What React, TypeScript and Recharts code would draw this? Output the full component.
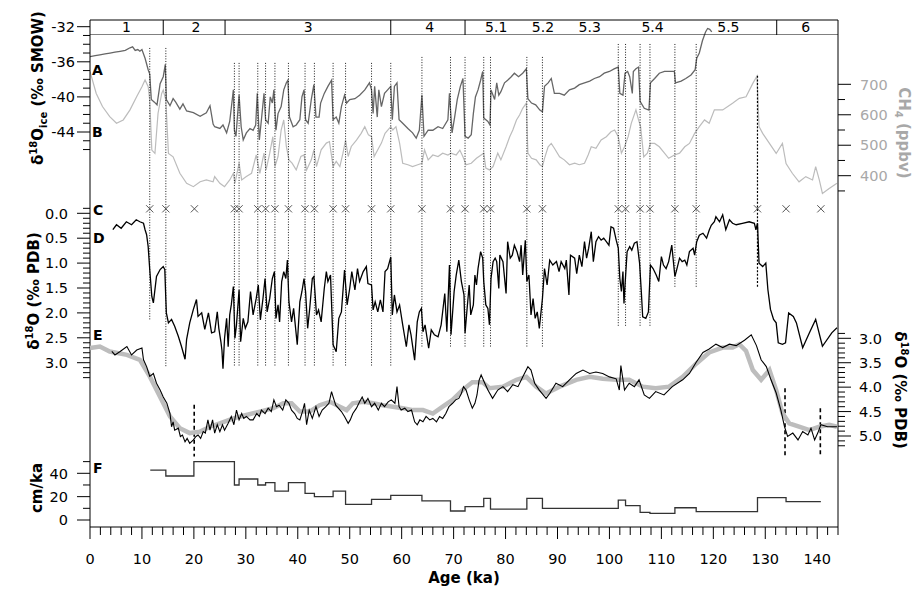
import {
  ComposedChart,
  Line,
  Scatter,
  XAxis,
  YAxis,
  ReferenceLine,
  ReferenceDot
} from 'recharts';

// ---- data ----

// A: ice-core d18O (permil SMOW)
const ICE_D18O: [number, number][] = [
  [0, -35.4], [1.0, -35.3], [1.9, -35.2], [2.9, -35.1], [3.85, -35.0], [4.8, -34.9], [5.8, -34.8],
  [6.8, -34.7], [7.7, -34.4], [8.2, -34.3], [8.7, -34.7], [9.2, -34.6], [9.6, -34.8], [10.0, -34.6],
  [10.6, -35.6], [11.2, -36.9], [11.5, -37.4], [11.8, -40.3], [12.4, -40.6], [12.9, -40.9], [13.5, -38.5],
  [14.1, -37.7], [14.5, -36.3], [14.7, -40.3], [15.4, -41.0], [16.0, -40.2], [16.5, -40.6], [17.3, -41.4],
  [17.9, -40.8], [18.6, -41.6], [19.9, -41.8], [21.2, -42.2], [22.4, -41.8], [23.1, -41.0], [23.7, -43.1],
  [24.0, -43.4], [25.0, -43.6], [25.6, -43.2], [26.3, -44.1], [26.9, -42.8], [27.6, -39.2], [27.8, -43.8],
  [28.1, -44.5], [28.7, -39.8], [29.1, -43.4], [29.5, -44.9], [30.1, -44.1], [30.8, -43.6], [31.4, -43.8],
  [31.9, -43.2], [32.2, -39.6], [32.6, -44.9], [33.0, -42.6], [33.5, -39.6], [33.8, -42.6], [34.3, -43.0],
  [34.7, -40.0], [35.1, -40.7], [35.4, -39.2], [35.8, -43.8], [36.2, -41.9], [36.8, -41.1], [37.3, -39.2],
  [37.8, -38.4], [38.1, -38.1], [38.4, -42.3], [39.1, -43.4], [39.7, -43.2], [40.4, -42.6], [40.8, -40.0],
  [41.2, -39.2], [41.5, -42.6], [42.0, -43.0], [42.6, -40.3], [43.1, -38.6], [43.5, -42.3], [44.1, -42.3],
  [44.4, -40.7], [45.1, -39.6], [45.8, -38.8], [46.5, -38.1], [46.8, -42.6], [47.4, -42.3], [47.9, -43.0],
  [48.4, -41.1], [49.0, -39.8], [49.4, -40.7], [50.0, -40.3], [51.0, -40.2], [51.9, -39.8], [52.9, -39.2],
  [53.8, -38.4], [54.2, -39.2], [54.5, -41.9], [54.8, -38.8], [55.3, -42.3], [55.6, -39.2], [56.1, -41.1],
  [56.7, -39.6], [57.3, -39.2], [57.9, -38.8], [58.2, -42.6], [58.6, -38.8], [59.1, -38.4], [59.5, -42.6],
  [60.2, -43.0], [61.2, -43.6], [62.1, -44.1], [62.8, -44.7], [63.4, -43.8], [63.9, -39.8], [64.3, -44.5],
  [65.1, -43.8], [66.0, -43.8], [67.0, -43.4], [67.9, -43.6], [68.9, -42.6], [69.2, -39.6], [69.7, -44.1],
  [70.2, -42.3], [70.7, -40.3], [71.3, -38.8], [71.8, -37.9], [72.2, -44.5], [72.8, -44.7], [73.4, -44.3],
  [73.8, -41.9], [74.2, -40.0], [74.7, -39.2], [75.2, -38.1], [75.6, -37.1], [75.8, -42.4], [76.6, -42.8],
  [77.0, -43.2], [77.2, -39.2], [77.9, -40.3], [78.3, -38.4], [78.7, -39.8], [79.1, -39.4], [79.8, -38.4],
  [80.4, -38.1], [81.1, -37.7], [81.7, -37.3], [82.5, -37.7], [83.3, -37.3], [84.0, -36.8], [84.3, -40.2],
  [85.0, -40.7], [85.8, -40.9], [86.6, -41.5], [87.1, -41.7], [87.5, -38.8], [88.2, -38.4], [88.8, -37.9],
  [89.4, -39.6], [90.4, -39.6], [91.3, -39.8], [92.3, -39.2], [93.3, -39.0], [94.2, -38.6], [95.2, -38.4],
  [96.2, -38.2], [97.1, -37.9], [98.1, -37.7], [99.0, -37.3], [100.0, -37.1], [100.9, -36.8], [101.7, -36.6],
  [102.0, -39.6], [102.6, -39.8], [103.0, -37.3], [103.5, -37.1], [103.9, -37.7], [104.4, -39.6], [104.6, -37.1],
  [105.1, -36.8], [105.6, -36.6], [105.9, -40.5], [106.7, -41.3], [107.6, -41.5], [107.9, -38.4], [108.7, -37.9],
  [109.6, -37.3], [110.6, -37.1], [111.5, -37.1], [112.5, -37.1], [112.7, -38.4], [113.8, -38.2], [114.7, -37.9],
  [115.7, -37.5], [116.5, -36.9], [116.8, -35.6], [117.3, -35.0], [117.9, -33.6], [118.5, -32.6], [118.9, -32.2],
  [119.3, -32.3], [119.7, -32.6]
];

// B: methane (ppbv)
const CH4: [number, number][] = [
  [0, 742], [1.2, 670], [2.4, 627], [3.8, 594], [5.1, 572], [6.4, 583], [7.7, 616], [9.0, 660], [10.0, 692],
  [10.6, 714], [11.2, 692], [11.5, 648], [11.9, 484], [12.5, 473], [13.1, 605], [13.8, 670], [14.1, 681],
  [14.6, 648], [15.1, 473], [16.0, 462], [17.3, 408], [18.6, 375], [19.9, 364], [21.2, 380], [22.4, 386],
  [23.7, 380], [24.0, 397], [25.0, 375], [25.9, 364], [26.9, 386], [27.6, 408], [27.9, 375], [28.7, 441],
  [29.2, 386], [30.1, 397], [31.1, 408], [32.0, 468], [32.7, 408], [33.5, 474], [33.9, 419], [34.6, 474],
  [35.2, 528], [35.6, 430], [36.2, 463], [36.8, 550], [37.3, 583], [37.8, 496], [38.3, 452], [38.9, 441],
  [39.7, 419], [40.6, 463], [41.2, 468], [41.7, 419], [42.6, 452], [43.1, 485], [43.6, 430], [44.5, 485],
  [45.5, 507], [46.1, 512], [46.8, 430], [47.4, 447], [48.1, 430], [48.7, 474], [49.2, 517], [49.7, 463],
  [50.3, 496], [51.3, 517], [52.2, 539], [52.9, 561], [53.6, 534], [54.2, 528], [54.7, 463], [55.4, 485],
  [56.1, 507], [56.8, 539], [57.9, 561], [58.3, 550], [58.9, 561], [59.6, 507], [60.2, 441], [61.2, 436],
  [62.1, 430], [63.1, 436], [63.9, 441], [64.4, 485], [65.1, 452], [66.0, 468], [67.0, 463], [67.9, 474],
  [68.9, 468], [69.5, 474], [70.5, 468], [71.2, 484], [71.8, 462], [72.4, 436], [73.4, 441], [74.4, 457],
  [75.3, 468], [75.8, 474], [76.2, 425], [76.9, 419], [77.6, 430], [78.5, 474], [79.1, 452], [80.1, 495],
  [80.8, 528], [81.4, 550], [82.1, 583], [82.7, 599], [83.3, 621], [84.0, 638], [84.3, 474], [85.0, 457],
  [85.9, 452], [86.6, 436], [87.1, 430], [87.5, 457], [88.2, 495], [88.8, 506], [89.4, 490], [90.4, 462],
  [91.3, 452], [92.3, 436], [93.3, 441], [94.2, 436], [95.2, 441], [95.9, 468], [96.5, 495], [97.4, 490],
  [98.4, 517], [99.4, 528], [100.3, 544], [101.0, 550], [101.7, 528], [102.3, 474], [102.9, 495], [103.6, 528],
  [104.2, 572], [105.1, 616], [105.6, 583], [106.0, 561], [106.6, 462], [107.3, 474], [107.9, 506], [108.7, 506],
  [109.6, 495], [110.6, 474], [111.4, 457], [112.5, 468], [113.5, 474], [114.5, 495], [115.4, 506], [116.4, 539],
  [117.3, 561], [118.3, 583], [119.2, 572], [120.2, 616], [121.8, 616], [123.7, 638], [125.0, 654], [126.3, 659],
  [127.6, 703], [128.4, 727], [128.8, 561], [129.5, 539], [130.8, 506], [132.1, 473], [133.3, 506], [134.0, 440],
  [135.2, 408], [136.5, 380], [137.8, 397], [139.1, 386], [139.7, 430], [140.4, 386], [141.0, 342], [142.3, 358],
  [143.8, 375]
];

// D: planktic d18O (permil PDB)
const PLANKTIC: [number, number][] = [
  [4.4, 0.33], [5.1, 0.23], [6.0, 0.3], [7.0, 0.17], [8.0, 0.23], [8.9, 0.13], [9.6, 0.17], [10.3, 0.2],
  [10.6, 0.33], [10.9, 0.43], [11.2, 0.67], [11.5, 1.13], [11.9, 1.67], [12.2, 1.8], [12.8, 1.27], [13.5, 1.13],
  [14.1, 1.07], [14.4, 1.13], [14.6, 1.73], [14.7, 2.0], [15.1, 2.2], [15.7, 2.13], [16.3, 2.27], [17.0, 2.47],
  [17.6, 2.67], [18.3, 2.93], [18.6, 2.53], [19.2, 2.2], [19.9, 1.93], [20.5, 1.73], [20.8, 2.07], [21.5, 2.0],
  [22.1, 2.33], [22.8, 2.0], [23.4, 2.4], [24.0, 2.38], [24.5, 1.98], [24.8, 2.31], [25.2, 2.58], [25.4, 2.75],
  [25.6, 3.12], [25.9, 2.51], [26.3, 2.11], [26.6, 2.68], [26.9, 2.04], [27.2, 1.84], [27.6, 1.47], [27.9, 2.51],
  [28.2, 2.24], [28.7, 1.54], [29.0, 2.58], [29.5, 2.11], [29.9, 2.31], [30.4, 2.18], [30.9, 1.57], [31.4, 2.04],
  [32.0, 1.71], [32.4, 1.44], [32.8, 2.14], [33.3, 1.71], [33.7, 1.31], [34.1, 1.98], [34.6, 1.71], [35.1, 1.31],
  [35.5, 1.17], [35.8, 2.11], [36.2, 1.84], [36.5, 2.18], [36.9, 1.37], [37.3, 1.17], [37.7, 1.31], [38.0, 0.94],
  [38.3, 1.78], [38.8, 2.18], [39.2, 1.91], [39.9, 2.64], [40.4, 1.78], [40.8, 1.57], [41.2, 1.31], [41.5, 1.57],
  [41.9, 2.31], [42.3, 1.91], [42.8, 1.31], [43.1, 1.27], [43.6, 2.04], [44.0, 1.94], [44.5, 2.18], [45.1, 1.51],
  [45.5, 1.17], [45.8, 1.37], [46.3, 1.24], [46.8, 2.64], [47.4, 2.78], [47.9, 2.11], [48.4, 1.98], [49.0, 1.14],
  [49.5, 1.84], [50.0, 1.51], [50.4, 1.17], [51.0, 1.54], [51.5, 1.11], [51.9, 1.37], [52.6, 1.17], [53.2, 1.07],
  [53.5, 1.41], [54.2, 1.44], [54.5, 1.94], [54.9, 1.78], [55.4, 1.98], [55.9, 1.74], [56.4, 1.98], [56.8, 1.17],
  [57.3, 1.11], [57.9, 0.88], [58.2, 2.04], [58.6, 1.64], [59.1, 1.98], [59.6, 1.84], [60.2, 2.24], [60.9, 2.68],
  [61.4, 2.24], [61.8, 2.44], [62.5, 2.95], [63.0, 2.18], [63.4, 1.98], [63.8, 1.91], [64.1, 2.38], [64.5, 2.24],
  [65.2, 2.71], [65.7, 2.34], [66.3, 2.44], [67.0, 2.48], [67.6, 2.24], [68.3, 1.61], [68.7, 2.38], [69.2, 1.04],
  [69.5, 2.44], [70.1, 1.57], [70.5, 1.24], [71.0, 0.94], [71.5, 1.37], [72.0, 1.64], [72.2, 2.41], [72.6, 1.91],
  [73.0, 1.44], [73.3, 2.04], [73.8, 1.84], [74.1, 1.24], [74.4, 1.44], [74.7, 1.11], [75.2, 0.77], [75.6, 0.9],
  [75.8, 1.37], [76.2, 1.84], [76.6, 1.91], [76.9, 2.24], [77.2, 1.31], [77.6, 0.97], [78.0, 0.9], [78.3, 0.97],
  [78.7, 1.51], [78.9, 0.84], [79.5, 0.97], [80.1, 1.61], [80.4, 0.57], [80.9, 0.9], [81.3, 0.84], [81.7, 0.64],
  [82.2, 0.77], [82.7, 0.97], [83.0, 0.64], [83.3, 1.24], [83.8, 0.54], [84.1, 1.37], [84.5, 1.24], [84.9, 2.04],
  [85.3, 1.71], [85.7, 2.11], [86.1, 1.98], [86.5, 2.31], [87.1, 1.71], [87.5, 1.11], [88.0, 1.44], [88.5, 0.94],
  [89.1, 1.04], [89.8, 0.97], [90.3, 1.17], [90.7, 0.97], [91.4, 1.11], [91.7, 0.94], [92.2, 1.64], [92.5, 0.84],
  [93.3, 0.9], [93.7, 1.21], [94.2, 0.84], [94.7, 1.07], [95.2, 0.57], [95.6, 0.9], [96.0, 0.7], [96.5, 0.37],
  [96.9, 0.97], [97.4, 0.57], [97.9, 0.47], [98.4, 0.54], [98.9, 0.5], [99.4, 0.57], [99.9, 0.64], [100.3, 0.27],
  [100.8, 0.3], [101.3, 0.54], [101.7, 0.7], [102.0, 1.31], [102.3, 1.57], [102.6, 1.17], [102.8, 1.81],
  [103.0, 1.44], [103.4, 0.77], [103.9, 0.67], [104.3, 0.74], [104.8, 0.6], [105.3, 0.57], [105.8, 1.0],
  [106.1, 1.51], [106.4, 2.08], [107.0, 2.11], [107.5, 1.98], [107.9, 1.04], [108.4, 1.11], [109.0, 1.24],
  [109.5, 1.37], [110.0, 0.87], [110.4, 1.04], [110.9, 1.11], [111.4, 0.97], [112.0, 0.64], [112.6, 1.27],
  [113.0, 1.11], [113.5, 0.9], [114.0, 0.97], [114.5, 0.94], [114.9, 1.04], [115.4, 0.77], [116.1, 0.7],
  [116.4, 0.84], [116.8, 0.57], [117.3, 0.44], [118.0, 0.4], [118.7, 0.5], [119.2, 0.34], [119.6, 0.24],
  [120.2, 0.17], [120.5, 0.07], [121.2, 0.17], [121.8, 0.03], [122.4, 0.33], [123.1, 0.13], [123.7, 0.2],
  [124.4, 0.23], [125.6, 0.2], [126.9, 0.17], [127.9, 0.2], [128.2, 0.33], [128.5, 0.2], [128.8, 1.0],
  [129.5, 1.07], [130.1, 1.0], [130.5, 1.53], [131.0, 1.93], [131.6, 2.13], [132.1, 2.2], [132.5, 2.6],
  [133.3, 2.63], [133.9, 2.6], [134.5, 2.0], [135.4, 2.07], [136.0, 2.2], [137.2, 2.7], [138.5, 2.4],
  [139.7, 2.13], [141.0, 2.67], [142.8, 2.4], [143.8, 2.3]
];

// E: benthic d18O (permil PDB), black record
const BENTHIC: [number, number][] = [
  [4.2, 3.27], [4.8, 3.34], [5.8, 3.27], [7.1, 3.17], [8.0, 3.34], [9.0, 3.24], [10.0, 3.2], [10.3, 3.44],
  [10.9, 3.58], [11.5, 3.78], [12.2, 3.72], [12.8, 3.92], [13.5, 4.06], [14.1, 4.2], [14.8, 4.33], [15.4, 4.54],
  [15.7, 4.81], [16.0, 4.71], [16.3, 4.88], [17.0, 4.84], [17.4, 5.01], [17.8, 4.98], [18.3, 5.12], [18.7, 5.05],
  [19.2, 5.15], [19.9, 5.08], [20.4, 5.01], [20.8, 4.98], [21.3, 5.05], [21.8, 4.91], [22.2, 4.94], [22.7, 4.67],
  [23.1, 4.88], [23.6, 4.67], [24.0, 4.94], [24.5, 4.77], [25.0, 4.91], [25.5, 4.77], [25.9, 4.88], [26.6, 4.74],
  [27.2, 4.6], [27.7, 4.77], [28.2, 4.47], [28.7, 4.67], [29.2, 4.54], [29.6, 4.64], [30.1, 4.6], [30.8, 4.67],
  [31.4, 4.67], [32.1, 4.54], [32.6, 4.6], [33.0, 4.47], [33.7, 4.54], [34.3, 4.43], [34.9, 4.5], [35.4, 4.26],
  [35.9, 4.4], [36.4, 4.37], [37.1, 4.47], [37.7, 4.26], [38.3, 4.33], [38.8, 4.47], [39.4, 4.54], [39.9, 4.64],
  [40.4, 4.67], [40.9, 4.5], [41.3, 4.33], [41.7, 4.77], [42.2, 4.47], [42.8, 4.64], [43.5, 4.4], [44.1, 4.6],
  [44.7, 4.47], [45.4, 4.4], [46.0, 4.33], [46.5, 4.09], [46.8, 4.2], [47.3, 4.37], [47.8, 4.43], [48.4, 4.5],
  [49.0, 4.6], [49.7, 4.74], [50.1, 4.67], [50.6, 4.54], [51.3, 4.43], [51.9, 4.3], [52.4, 4.2], [52.9, 4.33],
  [53.5, 4.23], [54.2, 4.4], [54.8, 4.33], [55.5, 4.47], [56.1, 4.33], [56.7, 4.4], [57.4, 4.3], [58.0, 4.26],
  [58.7, 4.33], [59.1, 3.99], [59.5, 4.4], [59.9, 4.47], [60.6, 4.43], [61.2, 4.5], [61.9, 4.47], [62.5, 4.71],
  [63.0, 4.77], [63.5, 4.67], [64.1, 4.71], [64.7, 4.6], [65.4, 4.67], [66.0, 4.64], [66.7, 4.71], [67.3, 4.6],
  [67.9, 4.64], [68.5, 4.54], [69.1, 4.4], [69.8, 4.33], [70.4, 4.26], [71.0, 4.23], [71.5, 4.13], [71.9, 3.99],
  [72.4, 4.06], [73.0, 4.26], [73.6, 4.43], [74.1, 4.33], [74.5, 4.16], [74.9, 3.86], [75.3, 3.75], [76.0, 3.92],
  [76.6, 4.06], [77.5, 4.23], [78.5, 4.06], [79.5, 3.99], [80.4, 4.09], [81.4, 3.95], [82.4, 3.99], [83.3, 3.79],
  [84.3, 3.58], [84.9, 3.65], [85.6, 3.92], [86.5, 4.06], [87.8, 4.23], [88.5, 4.13], [89.7, 3.92], [91.0, 3.99],
  [92.3, 3.85], [93.6, 3.72], [94.9, 3.65], [96.2, 3.72], [97.4, 3.69], [98.7, 3.72], [100.0, 3.79], [101.3, 3.83],
  [101.9, 4.06], [102.2, 3.56], [102.9, 4.06], [103.8, 3.92], [104.8, 3.99], [105.7, 3.85], [106.7, 4.16],
  [107.7, 4.23], [108.9, 4.09], [110.5, 4.16], [112.1, 3.99], [114.1, 3.85], [115.4, 3.72], [116.7, 3.49],
  [118.0, 3.29], [119.2, 3.22], [120.5, 3.12], [121.8, 3.19], [123.1, 3.12], [124.4, 3.15], [126.0, 3.04],
  [127.3, 2.93], [128.3, 3.15], [129.2, 3.44], [130.2, 3.58], [131.1, 3.85], [132.1, 4.12], [133.0, 4.47],
  [133.7, 4.81], [134.3, 5.01], [135.3, 4.94], [136.3, 5.08], [137.2, 4.91], [138.2, 4.98], [138.8, 4.84],
  [139.5, 5.08], [140.1, 4.94], [140.7, 4.77], [142.0, 4.81], [143.8, 4.81]
];

// E: smoothed reference stack, thick grey
const STACK: [number, number][] = [
  [0, 3.2], [1.9, 3.17], [3.8, 3.27], [7.1, 3.34], [9.6, 3.44], [11.5, 3.78], [13.5, 4.2], [15.4, 4.6],
  [17.3, 4.84], [19.2, 4.94], [21.2, 4.91], [23.1, 4.81], [25.0, 4.74], [27.6, 4.64], [30.1, 4.57], [32.7, 4.5],
  [35.3, 4.43], [37.2, 4.33], [38.8, 4.33], [40.4, 4.5], [42.3, 4.5], [44.2, 4.37], [46.2, 4.3], [48.1, 4.4],
  [49.4, 4.47], [50.6, 4.33], [52.6, 4.3], [54.5, 4.33], [56.4, 4.37], [58.3, 4.4], [60.2, 4.43], [62.2, 4.47],
  [64.1, 4.47], [66.0, 4.54], [67.9, 4.4], [69.8, 4.26], [71.7, 4.06], [73.6, 3.9], [75.6, 3.9], [76.9, 4.02],
  [79.5, 3.99], [82.1, 3.85], [84.0, 3.79], [85.9, 3.99], [87.8, 4.13], [90.4, 3.99], [93.6, 3.85], [96.2, 3.79],
  [98.7, 3.83], [101.3, 3.85], [103.8, 3.85], [106.4, 3.99], [108.9, 4.02], [111.5, 3.99], [114.1, 3.79],
  [116.7, 3.52], [119.2, 3.29], [121.8, 3.19], [123.7, 3.19], [125.0, 3.12], [126.3, 3.26], [127.6, 3.65],
  [129.2, 3.85], [130.8, 3.65], [132.1, 4.06], [133.3, 4.53], [134.6, 4.74], [136.5, 4.81], [138.5, 4.88],
  [140.4, 4.81], [142.3, 4.77], [143.8, 4.81]
];

// F: sedimentation rate (cm/ka) between tie points
const F_EDGES = [11.6, 14.6, 20, 27.8, 28.7, 32.3, 33.8, 35.6, 38.2, 41.4, 43.2, 46.8, 49.2, 54.2, 57.9, 63.9,
  69.4, 72.2, 75.8, 77.1, 84.1, 87.1, 101.7, 103.1, 105.9, 107.8, 112.6, 116.7, 128.5, 134, 140.7];
const F_RATES = [42.8, 37.7, 50, 30, 35.1, 30, 32, 24.8, 32, 22.8, 20, 24.8, 13.4, 17.7, 21.1, 16.3, 7.7, 11.4,
  18.6, 9.4, 18.6, 10, 17.1, 12.3, 6.6, 5.7, 10.5, 7.1, 19.1, 15.7];

// C: tie points
const TIE_AGES = [11.5, 14.6, 20.1, 27.8, 28.7, 32.3, 33.8, 35.6, 38.2, 41.4, 43.2, 46.8, 49.2, 54.2, 57.9, 63.9,
  69.4, 72.2, 75.8, 77.1, 84.1, 87.1, 101.7, 103.1, 105.9, 107.8, 112.6, 116.7, 128.5, 134, 140.7];

// dotted correlation lines: age, top and bottom in D-axis units
const DO_LINES: [number, number, number][] = [
  [11.5, -3.32, 2.14], [14.6, -3.32, 3.08],
  [27.8, -3.02, 3.08], [28.7, -3.02, 3.08], [32.3, -3.02, 3.08], [33.8, -3.02, 3.08], [35.6, -3.02, 3.08],
  [38.2, -3.02, 3.08], [41.4, -3.02, 3.08], [43.2, -3.02, 3.08], [46.8, -3.02, 3.08], [49.2, -3.02, 3.08],
  [54.2, -3.02, 3.08], [57.9, -3.02, 3.08],
  [63.9, -3.14, 2.68], [69.4, -3.14, 2.68], [72.2, -3.14, 2.68], [75.8, -3.14, 2.68], [77.1, -3.14, 2.68],
  [84.1, -3.14, 2.68], [87.1, -3.14, 2.68],
  [101.7, -3.4, 2.28], [103.1, -3.4, 2.28], [105.9, -3.4, 2.28], [107.8, -3.4, 2.28],
  [112.6, -3.4, 1.5], [116.7, -3.4, 1.5]
];
const T2_LINE: [number, number, number] = [128.5, -2.76, 1.5];
// dashed markers in E: age, top, bottom in E-axis units
const E_MARKS: [number, number, number][] = [[20.06, 4.36, 5.42], [133.8, 4.02, 5.42], [140.6, 4.43, 5.42]];

// marine isotope stages
const STAGE_BOUNDS = [14.1, 26, 57.9, 72.2, 132.2];
const STAGE_LABELS: [string, number][] = [
  ['1', 7], ['2', 20.4], ['3', 42], ['4', 65.4], ['5.1', 78.2], ['5.2', 87.2], ['5.3', 96.2], ['5.4', 108.3],
  ['5.5', 122.9], ['6', 137.8]
];

const X_LABELS = [0, 10, 20, 30, 40, 50, 60, 70, 80, 90, 100, 110, 120, 130, 140];
const ICE_LABELS = [-32, -36, -40, -44];
const CH4_LABELS = [400, 500, 600, 700];
const D_LABELS = [0, 0.5, 1, 1.5, 2, 2.5, 3];
const E_LABELS = [3, 3.5, 4, 4.5, 5];
const F_LABELS = [0, 20, 40];

// ---- layout ----
const W = 914;
const H = 589;
const TOP = 20;
const BOTTOM = 527;
const LEFT = 90;
const RIGHT = 838;
const AXW = 60; // y-axis band width
const XAH = 30; // bottom x-axis band height
const TAH = 20; // top x-axis band height
const FONT = '"DejaVu Sans", sans-serif';
const C_ROW = -0.09; // tie-point row, on the D axis

const steps = (from: number, to: number, step: number) => {
  const out: number[] = [];
  for (let i = 0; from + i * step <= to + 1e-9; i++) out.push(Math.round((from + i * step) * 1000) / 1000);
  return out;
};

// domain of an axis whose values v1, v2 sit at pixel rows y1, y2
function span(v1: number, y1: number, v2: number, y2: number): [number, number] {
  const k = (v2 - v1) / (y2 - y1);
  const a = v1 + (TOP - y1) * k;
  const b = v1 + (BOTTOM - y1) * k;
  return [Math.min(a, b), Math.max(a, b)];
}

const toPts = (rows: [number, number][]) => rows.map(([age, v]) => ({ age, v }));
const near = (list: number[], v: number) => list.some((m) => Math.abs(m - v) < 1e-6);

type TickProps = { x?: number; y?: number; payload?: { value: number } };

function yTick(side: 'left' | 'right', labels: number[], digits: number, gap: number, color = '#000') {
  return function YTick({ x = 0, y = 0, payload }: TickProps) {
    const v = payload?.value ?? 0;
    const major = near(labels, v);
    const dir = side === 'left' ? -1 : 1;
    return (
      <g>
        <line x1={x} x2={x + dir * (major ? 13 : 7)} y1={y} y2={y} stroke='#000' />
        {major && (
          <text
            x={x + dir * gap}
            y={y}
            dy='0.36em'
            textAnchor={side === 'left' ? 'end' : 'start'}
            fontSize={14.5}
            fill={color}
            fontFamily={FONT}
          >
            {v.toFixed(digits)}
          </text>
        )}
      </g>
    );
  };
}

function BottomTick({ x = 0, y = 0, payload }: TickProps) {
  const v = payload?.value ?? 0;
  const major = near(X_LABELS, v);
  return (
    <g>
      <line x1={x} x2={x} y1={y} y2={y + (major ? 12 : 8)} stroke='#000' />
      {major && (
        <text x={x} y={y + 37} textAnchor='middle' fontSize={14.5} fontFamily={FONT} fill='#000'>
          {v}
        </text>
      )}
    </g>
  );
}

function TopTick({ x = 0, y = 0, payload }: TickProps) {
  const v = payload?.value ?? 0;
  const major = near(X_LABELS, v);
  return <line x1={x} x2={x} y1={y} y2={y - (major ? 12 : 7)} stroke='#000' />;
}

function XMark({ cx = 0, cy = 0 }: { cx?: number; cy?: number }) {
  const s = 3.6;
  return (
    <g stroke='#444' strokeWidth={0.9}>
      <line x1={cx - s} y1={cy - s} x2={cx + s} y2={cy + s} />
      <line x1={cx - s} y1={cy + s} x2={cx + s} y2={cy - s} />
    </g>
  );
}

const X_TICKS = steps(0, 144, 2);
const iceData = toPts(ICE_D18O);
const ch4Data = toPts(CH4);
const dData = toPts(PLANKTIC);
const eData = toPts(BENTHIC);
const stackData = toPts(STACK);
const fData = [
  ...F_RATES.map((r, i) => ({ age: F_EDGES[i], v: r })),
  { age: F_EDGES[F_EDGES.length - 1], v: F_RATES[F_RATES.length - 1] }
];
const tieData = TIE_AGES.map((age) => ({ age, v: C_ROW }));

const lineProps = { dot: false, isAnimationActive: false, type: 'linear' as const };
const yBase = {
  type: 'number' as const,
  width: AXW,
  allowDataOverflow: true,
  interval: 0,
  tickSize: 0,
  tickMargin: 0,
  tickLine: false
};
const hiddenX = (
  <XAxis dataKey='age' type='number' domain={[0, 144]} allowDataOverflow hide />
);
const layer: React.CSSProperties = { position: 'absolute', left: 0, top: 0 };

function Sup({ children }: { children: string }) {
  return (
    <tspan dy={-6} fontSize={10}>
      {children}
    </tspan>
  );
}

export default function App() {
  // every layer keeps the plot area at x 90..838, y 20..527
  const bothSides = { top: TOP, bottom: H - BOTTOM, left: LEFT - AXW, right: W - RIGHT - AXW };
  return (
    <div style={{ position: 'absolute', left: 0, top: 0, width: W, height: H, background: '#fff', fontFamily: FONT }}>
      {/* A and B, with the frame and both age axes */}
      <div style={layer}>
        <ComposedChart
          width={W}
          height={H}
          margin={{ top: TOP - TAH, bottom: H - BOTTOM - XAH, left: LEFT - AXW, right: W - RIGHT - AXW }}
        >
          <XAxis
            dataKey='age'
            type='number'
            domain={[0, 144]}
            allowDataOverflow
            ticks={X_TICKS}
            interval={0}
            height={XAH}
            tickSize={0}
            tickMargin={0}
            tickLine={false}
            tick={BottomTick}
            axisLine={{ stroke: '#000' }}
          />
          <XAxis
            xAxisId='top'
            orientation='top'
            type='number'
            domain={[0, 144]}
            allowDataOverflow
            ticks={X_TICKS}
            interval={0}
            height={TAH}
            tickSize={0}
            tickMargin={0}
            tickLine={false}
            tick={TopTick}
            axisLine={{ stroke: '#000' }}
          />
          <YAxis
            {...yBase}
            yAxisId='ice'
            domain={span(-32, 26.7, -44, 132)}
            ticks={steps(-46, -32, 1)}
            tick={yTick('left', ICE_LABELS, 0, 15)}
            axisLine={{ stroke: '#000' }}
          />
          <YAxis
            {...yBase}
            yAxisId='ch4'
            orientation='right'
            domain={span(700, 84.3, 400, 175.7)}
            ticks={steps(350, 700, 50)}
            tick={yTick('right', CH4_LABELS, 0, 22, '#a8a8a8')}
            axisLine={{ stroke: '#000' }}
          />
          <Line data={ch4Data} dataKey='v' yAxisId='ch4' stroke='#bcbcbc' strokeWidth={1.2} {...lineProps} />
          <Line data={iceData} dataKey='v' yAxisId='ice' stroke='#666' strokeWidth={1.3} {...lineProps} />
        </ComposedChart>
      </div>

      {/* C, D and E */}
      <div style={layer}>
        <ComposedChart width={W} height={H} margin={bothSides}>
          {hiddenX}
          <YAxis
            {...yBase}
            yAxisId='d'
            reversed
            domain={span(0, 213.3, 3, 362.7)}
            ticks={steps(-0.1, 3.3, 0.1)}
            tick={yTick('left', D_LABELS, 1, 22)}
            axisLine={false}
          />
          <YAxis
            {...yBase}
            yAxisId='e'
            orientation='right'
            reversed
            domain={span(3, 338.3, 5, 436)}
            ticks={steps(2.9, 5.2, 0.1)}
            tick={yTick('right', E_LABELS, 1, 21)}
            axisLine={false}
          />
          {DO_LINES.map(([age, top, bottom]) => (
            <ReferenceLine
              key={`do${age}`}
              yAxisId='d'
              segment={[{ x: age, y: top }, { x: age, y: bottom }]}
              stroke='#000'
              strokeWidth={0.9}
              strokeDasharray='1 1.6'
              ifOverflow='visible'
            />
          ))}
          <ReferenceLine
            yAxisId='d'
            segment={[{ x: T2_LINE[0], y: T2_LINE[1] }, { x: T2_LINE[0], y: T2_LINE[2] }]}
            stroke='#000'
            strokeWidth={1.2}
            strokeDasharray='2 1.6'
            ifOverflow='visible'
          />
          {E_MARKS.map(([age, top, bottom]) => (
            <ReferenceLine
              key={`em${age}`}
              yAxisId='e'
              segment={[{ x: age, y: top }, { x: age, y: bottom }]}
              stroke='#000'
              strokeWidth={1.6}
              strokeDasharray='4 3'
              ifOverflow='visible'
            />
          ))}
          <Scatter data={tieData} dataKey='v' yAxisId='d' shape={XMark} isAnimationActive={false} />
          <Line data={dData} dataKey='v' yAxisId='d' stroke='#000' strokeWidth={1.3} {...lineProps} />
          <Line data={stackData} dataKey='v' yAxisId='e' stroke='#bdbdbd' strokeWidth={4.5} {...lineProps} />
          <Line data={eData} dataKey='v' yAxisId='e' stroke='#000' strokeWidth={1.1} {...lineProps} />
        </ComposedChart>
      </div>

      {/* F */}
      <div style={layer}>
        <ComposedChart
          width={W}
          height={H}
          margin={{ top: TOP, bottom: H - BOTTOM, left: LEFT - AXW, right: W - RIGHT }}
        >
          {hiddenX}
          <YAxis
            {...yBase}
            yAxisId='f'
            domain={span(0, 520, 40, 473.3)}
            ticks={steps(0, 50, 10)}
            tick={yTick('left', F_LABELS, 0, 22)}
            axisLine={false}
          />
          <Line
            data={fData}
            dataKey='v'
            yAxisId='f'
            stroke='#333'
            strokeWidth={1.3}
            dot={false}
            isAnimationActive={false}
            type='stepAfter'
          />
        </ComposedChart>
      </div>

      {/* isotope stage band along the top */}
      <div style={layer}>
        <ComposedChart
          width={W}
          height={TOP + 15}
          margin={{ top: TOP, right: W - RIGHT, bottom: 0, left: LEFT }}
          data={STAGE_LABELS.map(([, age]) => ({ age, v: 0.5 }))}
        >
          {hiddenX}
          <YAxis type='number' domain={[0, 1]} allowDataOverflow hide />
          <ReferenceLine y={0} stroke='#000' />
          {STAGE_BOUNDS.map((b) => (
            <ReferenceLine key={`sb${b}`} x={b} stroke='#000' />
          ))}
          {STAGE_LABELS.map(([label, age]) => (
            <ReferenceDot
              key={`sl${label}`}
              x={age}
              y={0.5}
              r={0}
              fill='none'
              stroke='none'
              label={{ value: label, position: 'center', fontSize: 14, fill: '#000', fontFamily: FONT }}
            />
          ))}
        </ComposedChart>
      </div>

      {/* axis titles and panel letters */}
      <svg width={W} height={H} style={{ ...layer, pointerEvents: 'none' }}>
        <g fontFamily={FONT} fontWeight='bold' fill='#000'>
          <text transform='translate(43 88) rotate(-90)' textAnchor='middle' fontSize={15}>
            δ<Sup>18</Sup>
            <tspan dy={6}>O</tspan>
            <tspan dy={4} fontSize={10}>
              ice
            </tspan>
            <tspan dy={-4}> (‰ SMOW)</tspan>
          </text>
          <text transform='translate(39 291) rotate(-90)' textAnchor='middle' fontSize={15}>
            δ<Sup>18</Sup>
            <tspan dy={6}>O (‰ PDB)</tspan>
          </text>
          <text transform='translate(42 488) rotate(-90)' textAnchor='middle' fontSize={15}>
            cm/ka
          </text>
          <text transform='translate(899 133) rotate(90)' textAnchor='middle' fontSize={15} fill='#a8a8a8'>
            CH
            <tspan dy={4} fontSize={10}>
              4
            </tspan>
            <tspan dy={-4}> (ppbv)</tspan>
          </text>
          <text transform='translate(895 390) rotate(90)' textAnchor='middle' fontSize={15}>
            δ<Sup>18</Sup>
            <tspan dy={6}>O (‰ PDB)</tspan>
          </text>
          <text x={(LEFT + RIGHT) / 2} y={583} textAnchor='middle' fontSize={15}>
            Age (ka)
          </text>
          <g fontSize={14}>
            <text x={92} y={75}>A</text>
            <text x={92} y={137}>B</text>
            <text x={93} y={215}>C</text>
            <text x={93} y={243}>D</text>
            <text x={93} y={340}>E</text>
            <text x={93} y={473}>F</text>
          </g>
        </g>
      </svg>
    </div>
  );
}
